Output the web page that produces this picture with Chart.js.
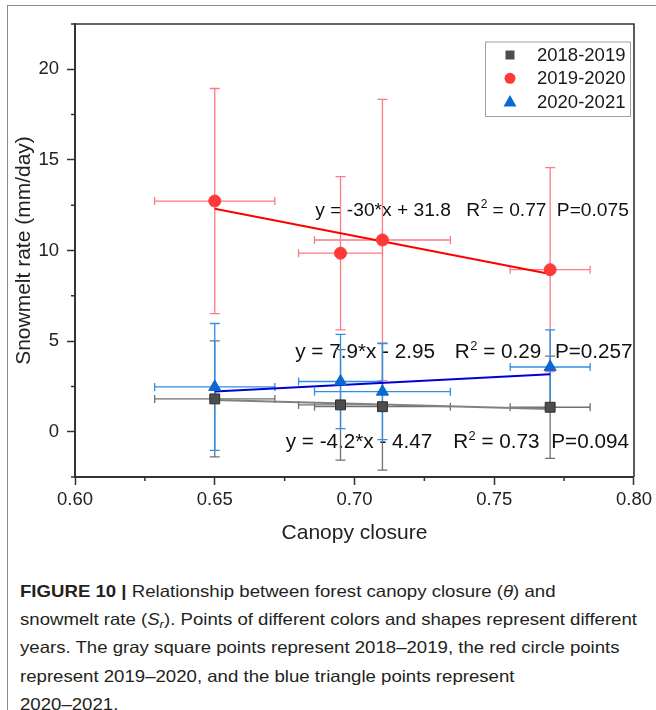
<!DOCTYPE html>
<html>
<head>
<meta charset="utf-8">
<script src="https://cdn.jsdelivr.net/npm/chart.js@4.4.0/dist/chart.umd.min.js"></script>
<style>
    html, body { margin: 0; padding: 0; background: #fff; }
    body { width: 656px; height: 710px; position: relative; overflow: hidden; font-family: "Liberation Sans", Arial, sans-serif; }
    #frame { position: absolute; left: 7px; top: 5px; width: 700px; height: 760px; border-left: 1.5px solid #8c8c8c; border-top: 1.5px solid #8c8c8c; }
    #chart { position: absolute; left: 0; top: 0; }
    #caption { position: absolute; left: 20px; top: 577px; font-size: 16.5px; line-height: 28.2px; color: #231f20; white-space: nowrap; transform-origin: 0 0; }
    #caption .ln { display: block; width: max-content; height: 28.2px; }
    #caption sub { font-size: 0.7em; line-height: 0; vertical-align: -0.25em; }
</style>
</head>
<body>
<div id="frame"></div>
<canvas id="chart" width="656" height="560"></canvas>
<div id="caption">
    <div class="ln"><b>FIGURE 10 |</b> Relationship between forest canopy closure (<i>θ</i>) and</div>
    <div class="ln" id="widest">snowmelt rate (<i>S<sub>r</sub></i>). Points of different colors and shapes represent different</div>
    <div class="ln">years. The gray square points represent 2018–2019, the red circle points</div>
    <div class="ln">represent 2019–2020, and the blue triangle points represent</div>
    <div class="ln">2020–2021.</div>
</div>
<script>
const FONT = '"Liberation Sans", Arial, sans-serif';

// values
const canopy = [0.65, 0.695, 0.71, 0.77];
const canopyErr = [0.0215, 0.015, 0.0243, 0.0143];
const rate1819 = [1.81, 1.48, 1.38, 1.35];
const err1819 = [3.2, 3.05, 3.5, 2.82];
const rate1920 = [12.73, 9.85, 10.58, 8.94];
const err1920 = [6.21, 4.23, 7.76, 5.63];
const rate2021 = [2.47, 2.77, 2.21, 3.57];
const err2021 = [3.5, 2.6, 2.65, 2.05];
const fitX = [0.65, 0.77];
const fit1819 = [1.75, 1.25];
const fit1920 = [12.3, 8.7];
const fit2021 = [2.22, 3.17];
const seriesNames = ['2018-2019', '2019-2020', '2020-2021'];
const xTicks = [0.60, 0.65, 0.70, 0.75, 0.80];
const xMinor = [0.625, 0.675, 0.725, 0.775];
const yTicks = [0, 5, 10, 15, 20];
const yMinor = [-2.5, 2.5, 7.5, 12.5, 17.5, 22.5];

const series = [
    { name: seriesNames[0], y: rate1819, err: err1819, fit: fit1819, style: 'rect', radius: 7,
      fill: '#4d4d4d', edge: '#2e2e2e', errColor: '#707070', fitColor: '#808080' },
    { name: seriesNames[1], y: rate1920, err: err1920, fit: fit1920, style: 'circle', radius: 6,
      fill: '#ff3838', edge: '#ff3838', errColor: '#ff7a86', fitColor: '#ff0000' },
    { name: seriesNames[2], y: rate2021, err: err2021, fit: fit2021, style: 'triangle', radius: 7,
      fill: '#0a68d0', edge: '#0a68d0', errColor: '#2f8ee6', fitColor: '#0000d4' }
];

// fit equation labels: left edges / baseline in data units
const fitNotes = [
    { eq: 'y = -4.2*x - 4.47', r2: '0.73', p: 'P=0.094', x: 0.6754, rx: 0.7353, px: 0.7704, y: -0.92, size: 20.7 },
    { eq: 'y = -30*x + 31.8', r2: '0.77', p: 'P=0.075', x: 0.686, rx: 0.740, px: 0.7724, y: 11.93, size: 19.2 },
    { eq: 'y = 7.9*x - 2.95', r2: '0.29', p: 'P=0.257', x: 0.6788, rx: 0.7359, px: 0.7717, y: 4.06, size: 20.7 }
];

const datasets = [];
series.forEach((s, k) => {
    datasets.push({
        type: 'line',
        data: fitX.map((x, i) => ({ x: x, y: s.fit[i] })),
        borderColor: s.fitColor,
        borderWidth: 2,
        pointRadius: 0,
        order: 10 - k
    });
});
series.forEach((s, k) => {
    datasets.push({
        type: 'scatter',
        label: s.name,
        data: canopy.map((x, i) => ({ x: x, y: s.y[i] })),
        pointStyle: s.style,
        pointRadius: s.radius,
        backgroundColor: s.fill,
        borderColor: s.edge,
        borderWidth: 1,
        order: 3 - k
    });
});

const annotations = {
    id: 'annotations',
    beforeDatasetsDraw(chart) {
        const { ctx, scales: { x, y } } = chart;
        ctx.save();
        ctx.fillStyle = '#111';
        ctx.textBaseline = 'alphabetic';
        ctx.textAlign = 'left';
        fitNotes.forEach(n => {
            const base = y.getPixelForValue(n.y);
            ctx.font = n.size + 'px ' + FONT;
            ctx.fillText(n.eq, x.getPixelForValue(n.x), base);
            const rx = x.getPixelForValue(n.rx);
            ctx.fillText('R', rx, base);
            const rw = ctx.measureText('R').width;
            ctx.font = (n.size * 0.62) + 'px ' + FONT;
            ctx.fillText('2', rx + rw + 0.5, base - n.size * 0.40);
            const sw = ctx.measureText('2').width;
            ctx.font = n.size + 'px ' + FONT;
            ctx.fillText(' = ' + n.r2, rx + rw + sw + 0.5, base);
            ctx.fillText(n.p, x.getPixelForValue(n.px), base);
        });
        ctx.restore();
    }
};

const errorBars = {
    id: 'errorBars',
    beforeDatasetsDraw(chart) {
        const { ctx, scales: { x, y } } = chart;
        ctx.save();
        ctx.lineWidth = 1.3;
        series.forEach(s => {
            ctx.strokeStyle = s.errColor;
            canopy.forEach((cx, i) => {
                const px = x.getPixelForValue(cx);
                const py = y.getPixelForValue(s.y[i]);
                const top = y.getPixelForValue(s.y[i] + s.err[i]);
                const bot = y.getPixelForValue(s.y[i] - s.err[i]);
                const l = x.getPixelForValue(cx - canopyErr[i]);
                const r = x.getPixelForValue(cx + canopyErr[i]);
                ctx.beginPath();
                ctx.moveTo(px, top); ctx.lineTo(px, bot);
                ctx.moveTo(px - 5, top); ctx.lineTo(px + 5, top);
                ctx.moveTo(px - 5, bot); ctx.lineTo(px + 5, bot);
                ctx.moveTo(l, py); ctx.lineTo(r, py);
                ctx.moveTo(l, py - 4); ctx.lineTo(l, py + 4);
                ctx.moveTo(r, py - 4); ctx.lineTo(r, py + 4);
                ctx.stroke();
            });
        });
        ctx.restore();
    }
};

const frameAndLegend = {
    id: 'frameAndLegend',
    afterDraw(chart) {
        const { ctx, chartArea: a, scales: { x, y } } = chart;
        ctx.save();
        // top and right edges of the box
        ctx.strokeStyle = '#333';
        ctx.lineWidth = 1.6;
        ctx.beginPath();
        ctx.moveTo(a.left, a.top); ctx.lineTo(a.right, a.top); ctx.lineTo(a.right, a.bottom);
        ctx.stroke();
        // minor ticks
        ctx.lineWidth = 1.5;
        ctx.beginPath();
        yMinor.forEach(v => {
            const py = y.getPixelForValue(v);
            ctx.moveTo(a.left - 4, py); ctx.lineTo(a.left, py);
        });
        xMinor.forEach(v => {
            const px = x.getPixelForValue(v);
            ctx.moveTo(px, a.bottom); ctx.lineTo(px, a.bottom + 4);
        });
        ctx.stroke();

        // legend
        const bx = a.right - 149, by = a.top + 17.5, bw = 145, bh = 74.5;
        ctx.fillStyle = '#fff';
        ctx.fillRect(bx, by, bw, bh);
        ctx.strokeStyle = '#a0a0a0';
        ctx.lineWidth = 1;
        ctx.strokeRect(bx + 0.5, by + 0.5, bw, bh);
        ctx.font = '18.5px ' + FONT;
        ctx.textBaseline = 'middle';
        ctx.textAlign = 'left';
        series.forEach((s, k) => {
            const ry = by + 13.5 + k * 23.3;
            const mx = bx + 25;
            ctx.fillStyle = s.fill;
            ctx.beginPath();
            if (s.style === 'rect') {
                ctx.rect(mx - 4.5, ry - 4.5, 9, 9);
            } else if (s.style === 'circle') {
                ctx.arc(mx, ry, 5.5, 0, Math.PI * 2);
            } else {
                ctx.moveTo(mx, ry - 6.5);
                ctx.lineTo(mx + 6.5, ry + 5);
                ctx.lineTo(mx - 6.5, ry + 5);
                ctx.closePath();
            }
            ctx.fill();
            ctx.fillStyle = '#1a1a1a';
            ctx.fillText(s.name, bx + 52, ry + 1);
        });
        ctx.restore();
    }
};

new Chart(document.getElementById('chart'), {
    type: 'scatter',
    data: { datasets: datasets },
    options: {
        responsive: false,
        animation: false,
        events: [],
        devicePixelRatio: 1,
        layout: { padding: { left: 0, top: 24, right: 19, bottom: 0 } },
        plugins: { legend: { display: false }, tooltip: { enabled: false } },
        scales: {
            x: {
                type: 'linear',
                min: 0.6,
                max: 0.8,
                afterBuildTicks: s => { s.ticks = xTicks.map(v => ({ value: v })); },
                afterFit: s => { s.height = 83; },
                grid: { drawOnChartArea: false, drawTicks: true, tickLength: 8, color: '#333', tickWidth: 1.5 },
                border: { display: true, color: '#333', width: 2 },
                ticks: {
                    padding: 4, color: '#222', autoSkip: false, maxRotation: 0,
                    font: { family: FONT, size: 18.5 },
                    callback: v => Number(v).toFixed(2)
                },
                title: {
                    display: true, text: 'Canopy closure', color: '#222',
                    font: { family: FONT, size: 21 }, padding: { top: 0, bottom: 14.4 }
                }
            },
            y: {
                type: 'linear',
                min: -2.5,
                max: 22.5,
                afterBuildTicks: s => { s.ticks = yTicks.map(v => ({ value: v })); },
                afterFit: s => { s.width = 75; },
                grid: { drawOnChartArea: false, drawTicks: true, tickLength: 8, color: '#333', tickWidth: 1.5 },
                border: { display: true, color: '#333', width: 2 },
                ticks: {
                    padding: 8, color: '#222', autoSkip: false,
                    font: { family: FONT, size: 18.5 },
                    callback: v => String(v)
                },
                title: {
                    display: true, text: 'Snowmelt rate (mm/day)', color: '#222',
                    font: { family: FONT, size: 21 }, padding: { top: 11.4, bottom: 0 }
                }
            }
        }
    },
    plugins: [annotations, errorBars, frameAndLegend]
});

// squeeze the caption so its longest line spans the same width as in the figure
const cap = document.getElementById('caption');
const w = document.getElementById('widest').getBoundingClientRect().width;
cap.style.transform = 'scaleX(' + (617 / w) + ')';
</script>
</body>
</html>
